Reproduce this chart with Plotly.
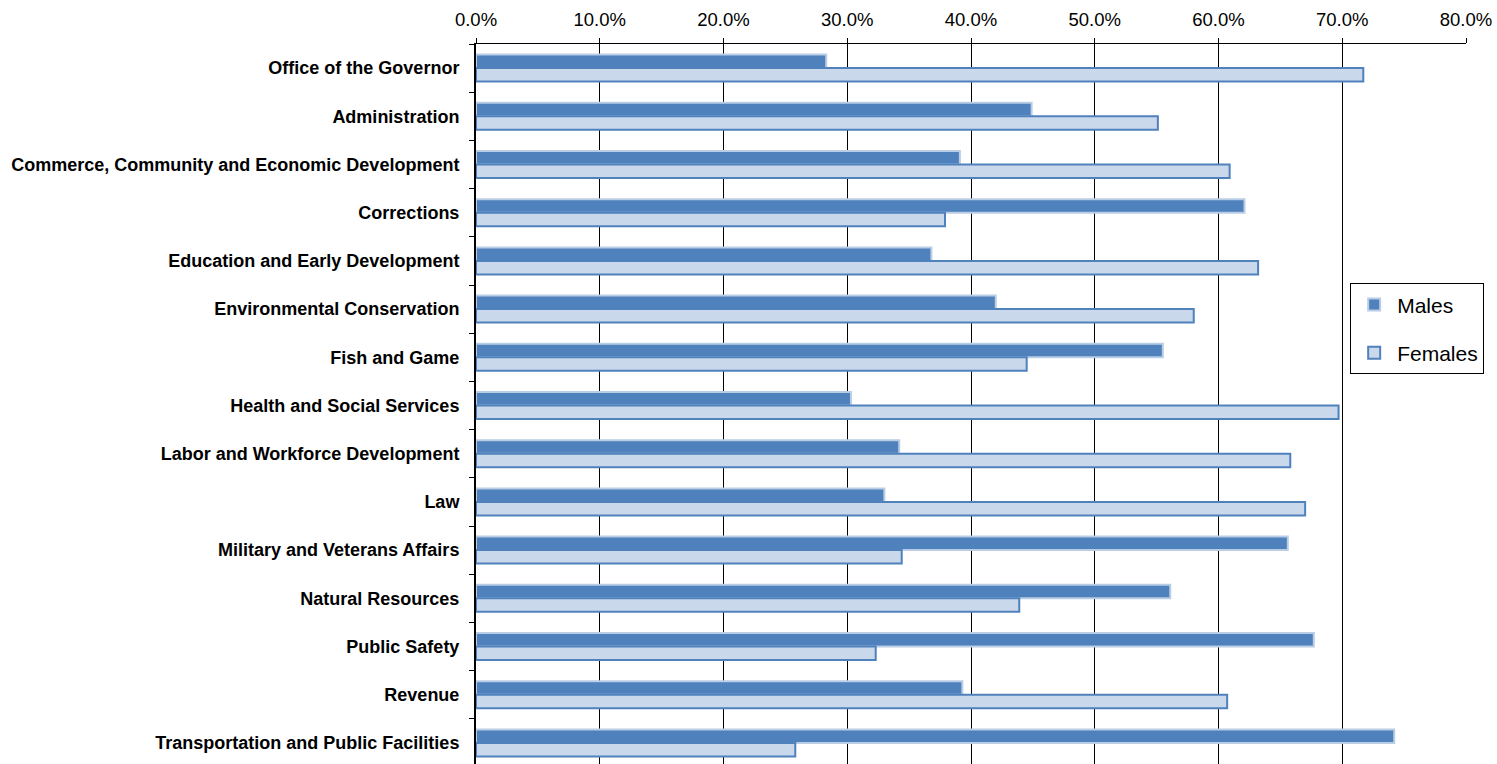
import plotly.graph_objects as go

categories = [
    "Office of the Governor",
    "Administration",
    "Commerce, Community and Economic Development",
    "Corrections",
    "Education and Early Development",
    "Environmental Conservation",
    "Fish and Game",
    "Health and Social Services",
    "Labor and Workforce Development",
    "Law",
    "Military and Veterans Affairs",
    "Natural Resources",
    "Public Safety",
    "Revenue",
    "Transportation and Public Facilities",
]
males = [0.283, 0.449, 0.391, 0.621, 0.368, 0.420, 0.555, 0.303, 0.342, 0.330,
         0.656, 0.561, 0.677, 0.393, 0.742]
females = [0.717, 0.551, 0.609, 0.379, 0.632, 0.580, 0.445, 0.697, 0.658, 0.670,
           0.344, 0.439, 0.323, 0.607, 0.258]
tick_vals = [0, 0.1, 0.2, 0.3, 0.4, 0.5, 0.6, 0.7, 0.8]

FONT = "Liberation Sans, Arial, sans-serif"

fig = go.Figure()
fig.add_trace(go.Bar(
    y=categories, x=males, name="Males", orientation="h",
    marker=dict(color="#4F81BD", line=dict(color="#B9CDE5", width=2)),
    legendgroup="m",
))
fig.add_trace(go.Bar(
    y=categories, x=females, name="Females", orientation="h",
    marker=dict(color="#C9D8EB", line=dict(color="#4F81BD", width=2)),
    legendgroup="f",
))

fig.update_layout(
    width=1497, height=767,
    margin=dict(l=476, r=31, t=44, b=0, autoexpand=False),
    plot_bgcolor="white", paper_bgcolor="white",
    barmode="group", bargap=0.44, bargroupgap=0,
    font=dict(family=FONT, color="black"),
    legend=dict(
        x=0.883, y=0.669, xanchor="left", yanchor="top",
        bgcolor="white", bordercolor="black", borderwidth=1,
        font=dict(size=21, family=FONT), traceorder="grouped",
        tracegroupgap=18, itemwidth=36,
    ),
)
fig.update_xaxes(
    side="top", range=[0, 0.8], tickvals=tick_vals, tickformat=".1%",
    showgrid=True, gridcolor="black", gridwidth=1,
    showline=True, linecolor="black", linewidth=1,
    ticks="outside", ticklen=5, tickcolor="black",
    tickfont=dict(size=18.5, family=FONT), zeroline=False,
    automargin=False, ticklabelstandoff=5,
)
fig.update_yaxes(
    autorange="reversed", categoryorder="array", categoryarray=categories,
    showline=True, linecolor="black", linewidth=2,
    ticks="outside", ticklen=5, tickcolor="black", tickson="boundaries",
    tickfont=dict(size=18, family=FONT, weight="bold"),
    ticklabelstandoff=11, automargin=False,
)

fig.write_html(
    "out.html",
    config={"displayModeBar": False},
    post_script="document.body.style.margin='0';document.body.style.overflow='hidden';",
)
